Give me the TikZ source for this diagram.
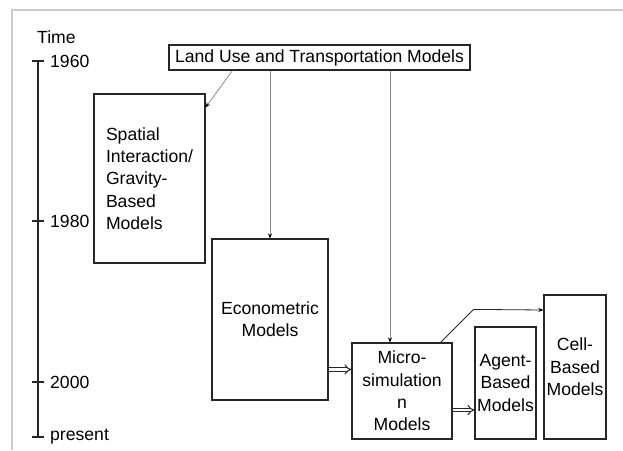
\documentclass[tikz,border=0pt]{standalone}
\usepackage{fontspec}
\setmainfont{Liberation Sans}
\usetikzlibrary{arrows.meta}

\tikzset{
	modelbox/.style={draw=black!85,line width=1.2pt,inner ysep=0pt,font=\fontsize{17.6}{22.3}\selectfont},
	yearlabel/.style={anchor=west,inner sep=0pt,font=\fontsize{17.6}{20}\selectfont},
	thinarrow/.style={draw=black!45,line width=0.8pt,-{Stealth[black,length=5pt,width=4pt]}},
	dblarrow/.style={draw=black!85,double=white,double distance=2.5pt,line width=1pt,-{Implies}}
}

\begin{document}
\begin{tikzpicture}[x=1pt,y=-1pt]
	\useasboundingbox (0,0) rectangle (623,450);
	\draw[black!20,line width=1.2pt] (12,450) -- (12,10) -- (623,10);

	% time axis
    \node[yearlabel] (time) at (37,37) {Time};
    \node[yearlabel] (t1960) at (50,61) {1960};
    \node[yearlabel] (t1980) at (50,221) {1980};
    \node[yearlabel] (t2000) at (50,382) {2000};
    \node[yearlabel] (tnow) at (50,437) {present};
	\draw[line width=1.2pt,black!85] (38,61) -- (38,437);
	\foreach \y in {61,221,382,437}
		\draw[line width=1.2pt,black!85] (32,\y) -- (44,\y);

	% models
    \node[modelbox] (land) at (319.5,57.5) [minimum width=301pt,minimum height=25pt,inner xsep=0pt] {Land Use and Transportation Models};
    \node[modelbox] (spatial) at (149.5,178.5) [text width=87pt,inner xsep=12pt,minimum height=169pt,align=left] {Spatial\\Interaction/\\Gravity-\\Based\\Models};
    \node[modelbox] (econ) at (270,319.5) [text width=100pt,inner xsep=8pt,minimum height=161pt,align=center] {Econometric\\Models};
    \node[modelbox] (micro) at (402,391) [text width=94pt,inner xsep=3pt,minimum height=96pt,align=center] {Micro-\\simulation\\n\\Models};
    \node[modelbox] (agent) at (505.5,383) [text width=61pt,inner xsep=0pt,minimum height=112pt,align=center] {Agent-\\Based\\Models};
    \node[modelbox] (cell) at (575,367) [text width=62pt,inner xsep=0pt,minimum height=144pt,align=center] {Cell-\\Based\\Models};

	% connectors
    \draw[thinarrow] ([xshift=64pt]land.south west) -- ([yshift=-14pt]spatial.north east);
    \draw[thinarrow] (econ.north |- land.south) -- (econ.north);
    \draw[thinarrow] ([xshift=-12pt]micro.north |- land.south) -- ([xshift=-12pt]micro.north);
    \draw[thinarrow,draw=black!85] ([xshift=-12pt]micro.north east) -- ++(33,-33) -- ([yshift=57pt]cell.west);
    \draw[dblarrow] ([yshift=-50pt]econ.east) -- ([yshift=-50pt]econ.east -| micro.west);
    \draw[dblarrow] ([yshift=-19pt]micro.east) -- ([yshift=-19pt]micro.east -| agent.west);
\end{tikzpicture}
\end{document}
